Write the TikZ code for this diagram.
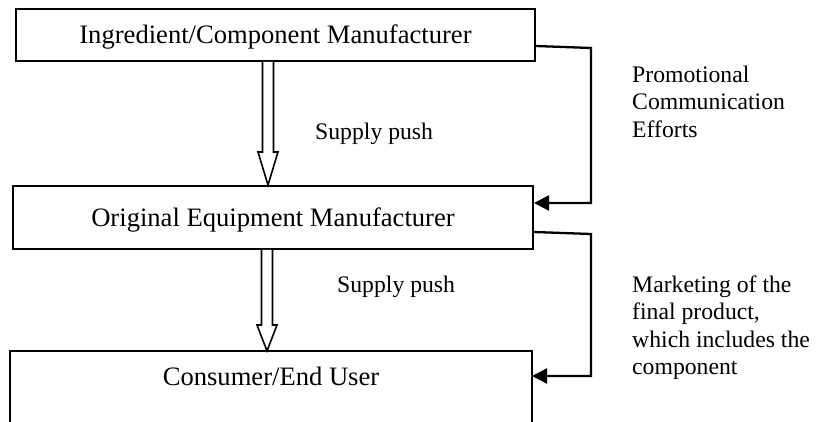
\documentclass[tikz,border=0pt]{standalone}
\usepackage{fontspec}
\setmainfont{Liberation Serif}
\usetikzlibrary{arrows.meta,calc}

% hollow "supply push" arrow: start point, tip point, head length
\newcommand\hollowarrow[3]{%
  \draw[hollow] let \p1=(#1), \p2=(#2) in
    (\x1-5.5pt,\y1) -- (\x1-5.5pt,\y2+#3) -- (\x1-10pt,\y2+#3) --
    (\x2,\y2) -- (\x1+10pt,\y2+#3) -- (\x1+5.5pt,\y2+#3) --
    (\x1+5.5pt,\y1);}

\begin{document}
\begin{tikzpicture}[x=1pt,y=-1pt,
  boxfont/.style={font=\fontsize{26.6}{30}\selectfont},
  labelfont/.style={font=\fontsize{23.7}{27.3}\selectfont},
  stagebox/.style={draw, line width=2pt, boxfont, inner sep=0pt,
    text height=20pt, text depth=2.4pt},
  note/.style={labelfont, inner sep=0pt, align=left},
  conn/.style={line width=2.3pt, line join=miter},
  feed/.style={conn, -{Triangle[length=15pt,width=15pt]}},
  hollow/.style={line width=1.6pt, line join=miter, fill=white}]

\useasboundingbox (0,0) rectangle (817,422);

% the three stages of the chain
\node[stagebox, minimum width=519pt, minimum height=52pt] (b1) at (275.5,35)
  {Ingredient/Component Manufacturer};
\node[stagebox, minimum width=520pt, minimum height=63pt] (b2) at (273,217.5)
  {Original Equipment Manufacturer};
\node[stagebox, draw=none, minimum width=520pt, minimum height=69pt,
  text height=20pt, text depth=21.4pt] (b3) at (271,386.5)
  {Consumer/End User};
\draw[line width=2pt] (b3.south west) -- (b3.north west) -- (b3.north east) -- (b3.south east);
\draw[line width=1pt, gray!45] (b3.south west) -- (b3.south east);

% supply push arrows
\coordinate (t1) at (268,187);
\coordinate (t2) at (267,352);
\hollowarrow{b1.south -| t1}{b2.north -| t1}{33pt}
\hollowarrow{b2.south -| t2}{b3.north -| t2}{26pt}
\node[labelfont, anchor=base west, inner sep=0pt] (sp1) at (315,140) {Supply push};
\node[labelfont, anchor=base west, inner sep=0pt] (sp2) at (337,292) {Supply push};

% communication loops on the right
\coordinate (r1a) at (591,48);
\coordinate (r1b) at (591,203);
\draw[feed] ($(b1.east)+(0,11)$) -- (r1a) -- (r1b) -- (b2.east |- r1b);
\coordinate (r2a) at (591,234);
\coordinate (r2b) at (591,376);
\draw[feed] ($(b2.east)+(0,14.5)$) -- (r2a) -- (r2b) -- (b3.east |- r2b);

\node[note, anchor=north west] (promo) at (632,65.8)
  {Promotional\\Communication\\Efforts};
\node[note, anchor=north west] (mkt) at (632,275.8)
  {Marketing of the\\final product,\\which includes the\\component};
\end{tikzpicture}
\end{document}
